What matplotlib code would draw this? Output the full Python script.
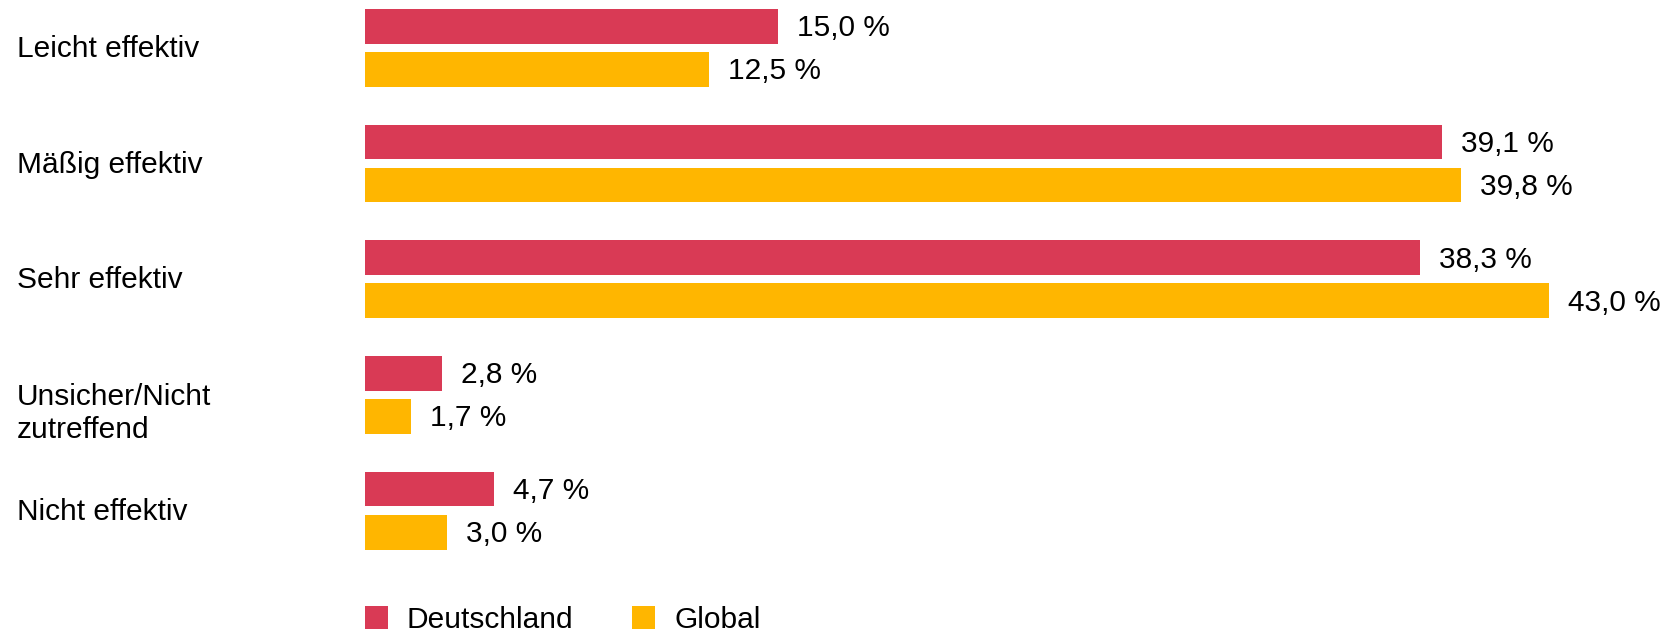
import matplotlib.pyplot as plt
from matplotlib.patches import Patch
from matplotlib.transforms import blended_transform_factory
import numpy as np

plt.rcParams["font.family"] = ["Liberation Sans", "DejaVu Sans"]

categories = [
    "Leicht effektiv",
    "Mäßig effektiv",
    "Sehr effektiv",
    "Unsicher/Nicht\nzutreffend",
    "Nicht effektiv",
]
deutschland = [15.0, 39.1, 38.3, 2.8, 4.7]
global_vals = [12.5, 39.8, 43.0, 1.7, 3.0]
series_names = ["Deutschland", "Global"]

RED = "#D93A55"
YELLOW = "#FFB600"
FS = 21.5


def fmt(v):
    return f"{v:.1f}".replace(".", ",") + " %"


def main():
    fig = plt.figure(figsize=(16.71, 6.35), dpi=100)
    ax = fig.add_axes([0, 0, 1, 1])
    ax.axis("off")

    # pixel geometry: x=0 at px 364.5, 27.55 px per %, groups 115.7 px apart
    ax.set_xlim(-364.5 / 27.55, (1671 - 364.5) / 27.55)
    ax.set_ylim((635 - 47.85) / 115.7, -47.85 / 115.7)

    y = np.arange(len(categories))
    off = 0.186
    h = 0.30

    b1 = ax.barh(y - off, deutschland, height=h, color=RED)
    b2 = ax.barh(y + off, global_vals, height=h, color=YELLOW)

    for bars, vals in ((b1, deutschland), (b2, global_vals)):
        for bar, v in zip(bars, vals):
            ax.annotate(
                fmt(v),
                (bar.get_width(), bar.get_y() + bar.get_height() / 2),
                xytext=(19, -2),
                textcoords="offset pixels",
                ha="left",
                va="center",
                fontsize=FS,
                color="black",
            )

    # category labels on the left
    trans = blended_transform_factory(fig.transFigure, ax.transData)
    for i, cat in enumerate(categories):
        n_lines = cat.count("\n")
        ax.text(
            17 / 1671,
            i + n_lines * 0.15 + 0.01,
            cat,
            transform=trans,
            ha="left",
            va="center",
            fontsize=FS,
            linespacing=1.22,
        )

    handles = [Patch(facecolor=RED), Patch(facecolor=YELLOW)]
    fig.legend(
        handles,
        series_names,
        loc="center left",
        bbox_to_anchor=(364.5 / 1671, 1 - 620 / 635),
        ncol=2,
        frameon=False,
        fontsize=FS,
        handlelength=0.78,
        handleheight=0.78,
        handletextpad=0.64,
        columnspacing=1.95,
        borderpad=0,
        borderaxespad=0,
    )

    fig.savefig("out.png", dpi=100)
    plt.close(fig)


if __name__ == "__main__":
    main()
